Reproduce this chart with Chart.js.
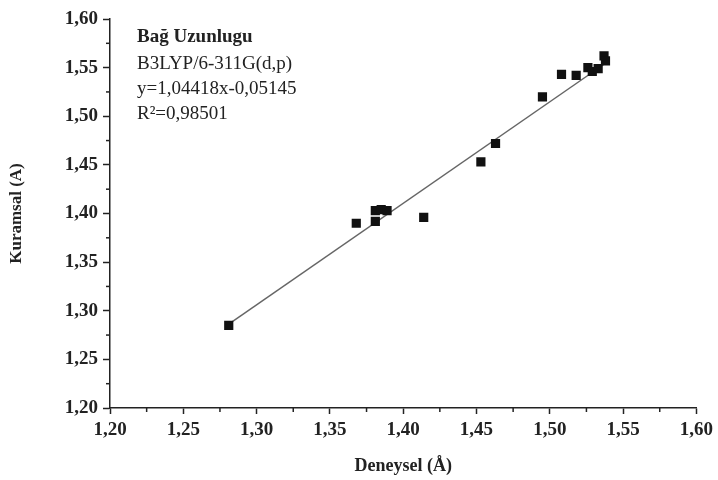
<!DOCTYPE html>
<html>
<head>
<meta charset="utf-8">
<script src="https://cdn.jsdelivr.net/npm/chart.js@4.4.1/dist/chart.umd.min.js"></script>
<style>
  body { margin: 0; background: #fff; }
  #wrap { width: 718px; height: 480px; }
</style>
</head>
<body>
<div id="wrap"><canvas id="mycanvas" width="718" height="480"></canvas></div>
<script>
// experimental (x) vs theoretical (y) bond lengths
var deneysel = [1.281, 1.368, 1.381, 1.381, 1.385, 1.389, 1.414, 1.453, 1.463, 1.495, 1.508, 1.518, 1.526, 1.529, 1.533, 1.537, 1.538];
var kuramsal = [1.285, 1.390, 1.392, 1.403, 1.404, 1.403, 1.396, 1.453, 1.472, 1.520, 1.543, 1.542, 1.550, 1.546, 1.549, 1.562, 1.557];
var fitX = [1.281, 1.538];
var slope = 1.04418, intercept = -0.05145;
var notes = ["Bağ Uzunlugu", "B3LYP/6-311G(d,p)", "y=1,04418x-0,05145", "R²=0,98501"];

var serif = '"Liberation Serif", "DejaVu Serif", serif';

var points = [];
for (var i = 0; i < deneysel.length; i++) {
	points.push({x: deneysel[i], y: kuramsal[i]});
}
var fitLine = fitX.map(function(x){ return {x: x, y: slope * x + intercept}; });

function comma(v){ return v.toFixed(2).replace('.', ','); }

// minor ticks + text block
var extras = {
	id: 'extras',
	afterDraw: function(chart){
		var ctx = chart.ctx;
		var xs = chart.scales.x, ys = chart.scales.y;
		ctx.save();
		ctx.strokeStyle = '#222';
		ctx.lineWidth = 1.5;
		for (var v = 1.225; v < 1.6; v += 0.05) {
			var px = xs.getPixelForValue(v);
			ctx.beginPath(); ctx.moveTo(px, xs.top); ctx.lineTo(px, xs.top + 4); ctx.stroke();
			var py = ys.getPixelForValue(v);
			ctx.beginPath(); ctx.moveTo(ys.right, py); ctx.lineTo(ys.right - 4, py); ctx.stroke();
		}
		ctx.fillStyle = '#222';
		ctx.textBaseline = 'middle';
		var lx = 137, ly = [37, 64, 89, 114];
		for (var j = 0; j < notes.length; j++) {
			ctx.font = (j === 0 ? 'bold ' : '') + '19px ' + serif;
			ctx.fillText(notes[j], lx, ly[j]);
		}
		ctx.restore();
	}
};

var ctx = document.getElementById('mycanvas');
var chart = new Chart(ctx, {
	type: 'scatter',
	data: {
		datasets: [
		{
			label: 'Bağ Uzunlugu',
			data: points,
			pointStyle: 'rect',
			pointRadius: 6.5,
			backgroundColor: '#111',
			borderColor: '#111',
			borderWidth: 0,
			order: 1
		},
		{
			label: 'fit',
			type: 'line',
			data: fitLine,
			borderColor: '#666',
			borderWidth: 1.5,
			pointRadius: 0,
			fill: false,
			order: 2
		}
		]
	},
	options: {
		responsive: false,
		animation: false,
		layout: { padding: { left: 0, right: 19, top: 19, bottom: 0 } },
		plugins: { legend: { display: false }, tooltip: { enabled: false } },
		scales: {
			x: {
				type: 'linear',
				min: 1.2, max: 1.6,
				afterFit: function(s){ s.height = 72; },
				border: { color: '#222', width: 1.5 },
				grid: { drawOnChartArea: false, tickLength: 6, tickColor: '#222', tickWidth: 1.5 },
				ticks: {
					stepSize: 0.05, autoSkip: false, maxRotation: 0, padding: 5,
					color: '#222',
					font: { family: serif, size: 19, weight: 'bold' },
					callback: function(v){ return comma(v); }
				},
				title: {
					display: true, text: 'Deneysel (Å)', color: '#222',
					font: { family: serif, size: 18, weight: 'bold' },
					padding: { top: 0, bottom: 3 }
				}
			},
			y: {
				type: 'linear',
				min: 1.2, max: 1.6,
				afterFit: function(s){ s.width = 110; },
				border: { color: '#222', width: 1.5 },
				grid: { drawOnChartArea: false, tickLength: 7, tickColor: '#222', tickWidth: 1.5 },
				ticks: {
					stepSize: 0.05, autoSkip: false, padding: 5,
					color: '#222',
					font: { family: serif, size: 19, weight: 'bold' },
					callback: function(v){ return comma(v); }
				},
				title: {
					display: true, text: 'Kuramsal (A)', color: '#222',
					font: { family: serif, size: 17, weight: 'bold' },
					padding: { top: 6, bottom: 0 }
				}
			}
		}
	},
	plugins: [extras]
});
</script>
</body>
</html>
